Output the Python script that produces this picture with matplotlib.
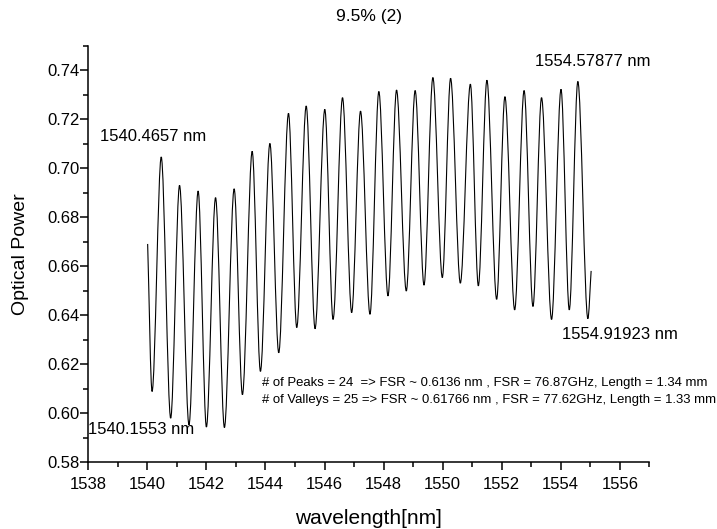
import matplotlib
matplotlib.use("Agg")
import matplotlib.pyplot as plt
from matplotlib.path import Path
from matplotlib.patches import PathPatch
from matplotlib.ticker import MultipleLocator, FormatStrFormatter

plt.rcParams['font.family'] = ['Liberation Sans', 'DejaVu Sans']

# Trace start / end points
start_wl, start_pw = 1540.01, 0.6691
end_wl, end_pw = 1555.03, 0.6581

# Peak extrema (wavelength nm, optical power)
peak_wl = [1540.47, 1541.09, 1541.72, 1542.31, 1542.94, 1543.55, 1544.15, 1544.78,
           1545.38, 1546.01, 1546.61, 1547.22, 1547.84, 1548.44, 1549.07, 1549.67,
           1550.27, 1550.94, 1551.50, 1552.11, 1552.76, 1553.35, 1554.01, 1554.58]
peak_pw = [0.7046, 0.6930, 0.6907, 0.6880, 0.6916, 0.7069, 0.7101, 0.7224,
           0.7254, 0.7240, 0.7288, 0.7233, 0.7313, 0.7319, 0.7317, 0.7370,
           0.7367, 0.7343, 0.7359, 0.7292, 0.7317, 0.7288, 0.7322, 0.7354]

# Valley extrema
valley_wl = [1540.16, 1540.79, 1541.41, 1542.00, 1542.61, 1543.22, 1543.83, 1544.45,
             1545.06, 1545.68, 1546.29, 1546.92, 1547.54, 1548.15, 1548.77, 1549.37,
             1549.99, 1550.60, 1551.21, 1551.83, 1552.44, 1553.06, 1553.69, 1554.29,
             1554.92]
valley_pw = [0.6089, 0.5980, 0.5953, 0.5944, 0.5942, 0.6076, 0.6171, 0.6247,
             0.6350, 0.6345, 0.6383, 0.6411, 0.6404, 0.6479, 0.6499, 0.6523,
             0.6554, 0.6531, 0.6520, 0.6465, 0.6422, 0.6436, 0.6383, 0.6422,
             0.6386]

title = "9.5% (2)"
xlabel = "wavelength[nm]"
ylabel = "Optical Power"
info_lines = ["# of Peaks = 24  => FSR ~ 0.6136 nm , FSR = 76.87GHz, Length = 1.34 mm",
              "# of Valleys = 25 => FSR ~ 0.61766 nm , FSR = 77.62GHz, Length = 1.33 mm"]

W, H = 717, 529
fig = plt.figure(figsize=(W / 100, H / 100), dpi=100)
L, R, B, T = 88.3, 649.3, 462.3, 45.7
ax = fig.add_axes([L / W, 1 - B / H, (R - L) / W, (B - T) / H])

# ordered extrema: valley, peak, valley, ... valley
ext = []
for i in range(len(valley_wl)):
    ext.append((valley_wl[i], valley_pw[i]))
    if i < len(peak_wl):
        ext.append((peak_wl[i], peak_pw[i]))

verts = [(start_wl, start_pw)]
codes = [Path.MOVETO]
x0, y0 = start_wl, start_pw
x1, y1 = ext[0]
dx = x1 - x0
verts += [(x0 + dx / 3, y0 + (y1 - y0) / 3), (x0 + 2 * dx / 3, y1), (x1, y1)]
codes += [Path.CURVE4] * 3
for (xa, ya), (xb, yb) in zip(ext[:-1], ext[1:]):
    d = xb - xa
    verts += [(xa + d / 3, ya), (xa + 2 * d / 3, yb), (xb, yb)]
    codes += [Path.CURVE4] * 3
xa, ya = ext[-1]
d = end_wl - xa
verts += [(xa + d / 3, ya), (xa + 2 * d / 3, ya + 2 * (end_pw - ya) / 3), (end_wl, end_pw)]
codes += [Path.CURVE4] * 3

ax.add_patch(PathPatch(Path(verts, codes), facecolor='none', edgecolor='black', lw=0.8))

ax.set_xlim(1538, 1557)
ax.set_ylim(0.58, 0.75)
ax.xaxis.set_major_locator(MultipleLocator(2))
ax.xaxis.set_minor_locator(MultipleLocator(1))
ax.yaxis.set_major_locator(MultipleLocator(0.02))
ax.yaxis.set_minor_locator(MultipleLocator(0.01))
ax.yaxis.set_major_formatter(FormatStrFormatter('%.2f'))
for s in ['top', 'right']:
    ax.spines[s].set_visible(False)
for s in ['left', 'bottom']:
    ax.spines[s].set_linewidth(1.1)
ax.tick_params(which='major', direction='out', length=5.5, width=1.1, labelsize=12)
ax.tick_params(which='minor', direction='out', length=3.3, width=1.1)
ax.tick_params(axis='x', which='major', pad=5)
ax.tick_params(axis='y', which='major', pad=1)

fig.text((L + R) / 2 / W, 1 - 16 / H, title, fontsize=12.5, ha='center', va='center')
fig.text((L + R) / 2 / W, 1 - 518 / H, xlabel, fontsize=15, ha='center', va='center')
fig.text(21 / W, 1 - (B + T) / 2 / H, ylabel, fontsize=14, ha='center', va='center', rotation=90)

ax.text(1538.4, 0.7130, "1540.4657 nm", fontsize=12, va='center', ha='left')
ax.text(1538.0, 0.5932, "1540.1553 nm", fontsize=12, va='center', ha='left')
ax.text(1553.14, 0.7436, "1554.57877 nm", fontsize=12, va='center', ha='left')
ax.text(1554.06, 0.6322, "1554.91923 nm", fontsize=12, va='center', ha='left')
ax.text(1543.89, 0.6124, info_lines[0], fontsize=9.45, va='center', ha='left')
ax.text(1543.89, 0.6055, info_lines[1], fontsize=9.45, va='center', ha='left')

fig.savefig("out.png", dpi=100)
